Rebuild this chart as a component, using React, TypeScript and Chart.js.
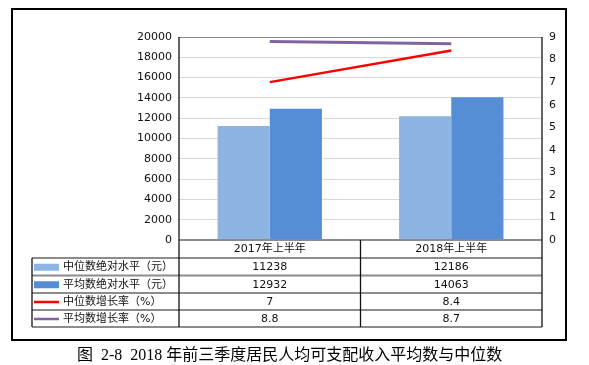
import { useEffect, useRef } from "react";
import { Chart, registerables } from "chart.js";

Chart.register(...registerables);

const categories = ["2017年上半年", "2018年上半年"];
const medianIncome = [11238, 12186];
const meanIncome = [12932, 14063];
const medianGrowth = [7, 8.4];
const meanGrowth = [8.8, 8.7];
const seriesNames = [
  "中位数绝对水平（元）",
  "平均数绝对水平（元）",
  "中位数增长率（%）",
  "平均数增长率（%）",
];
const caption = "图  2-8  2018 年前三季度居民人均可支配收入平均数与中位数";

const colors = ["#8DB4E2", "#558ED5", "#FF0000", "#8064A2"];
const FONT = '11px "DejaVu Sans", "Noto Sans CJK SC", sans-serif';
const TEXT = "#111";

const tablePlugin = {
  id: "dataTable",
  beforeDraw(chart: any) {
    const ctx = chart.ctx;
    ctx.save();
    ctx.strokeStyle = "#000";
    ctx.lineWidth = 2;
    ctx.strokeRect(12, 9, 554, 331);
    ctx.restore();
  },
  afterDatasetsDraw(chart: any) {
    const ctx = chart.ctx;
    const { left, right, top, bottom } = chart.chartArea;
    const xs = chart.scales.x;
    const centers = categories.map((_, i) => xs.getPixelForValue(i));
    const mid = (centers[0] + centers[1]) / 2;
    const legendLeft = 32;
    const rows = [bottom, bottom + 18, bottom + 35.5, bottom + 53, bottom + 70, bottom + 87];
    ctx.save();
    ctx.strokeStyle = "#8a8a8a";
    ctx.lineWidth = 1;
    ctx.beginPath();
    ctx.moveTo(left, top + 0.5);
    ctx.lineTo(right, top + 0.5);
    ctx.stroke();
    ctx.strokeStyle = "#8c8c8c";
    ctx.lineWidth = 2;
    rows.forEach((y, i) => {
      ctx.beginPath();
      ctx.moveTo(i === 0 ? left : legendLeft, y);
      ctx.lineTo(right, y);
      ctx.stroke();
    });
    ctx.strokeStyle = "#111";
    ctx.lineWidth = 1.3;
    const vline = (x: number, y0: number, y1: number) => {
      ctx.beginPath();
      ctx.moveTo(x, y0);
      ctx.lineTo(x, y1);
      ctx.stroke();
    };
    vline(left, top, rows[5]);
    vline(right, top, rows[5]);
    vline(mid, bottom, rows[5]);
    vline(legendLeft, rows[1], rows[5]);

    ctx.font = FONT;
    ctx.fillStyle = TEXT;
    ctx.textAlign = "center";
    ctx.textBaseline = "middle";
    categories.forEach((c, i) => ctx.fillText(c, centers[i], (rows[0] + rows[1]) / 2 + 0.5));
    const series = [medianIncome, meanIncome, medianGrowth, meanGrowth];
    series.forEach((vals, r) => {
      const yc = (rows[r + 1] + rows[r + 2]) / 2 + 0.5;
      vals.forEach((v, i) => ctx.fillText(String(v), centers[i], yc));
      if (r < 2) {
        ctx.fillStyle = colors[r];
        ctx.fillRect(34, yc - 3.5, 25, 7);
      } else {
        ctx.strokeStyle = colors[r];
        ctx.lineWidth = 2.5;
        ctx.beginPath();
        ctx.moveTo(34, yc);
        ctx.lineTo(59, yc);
        ctx.stroke();
      }
      ctx.fillStyle = TEXT;
      ctx.textAlign = "left";
      ctx.fillText(seriesNames[r], 63, yc);
      ctx.textAlign = "center";
    });
    ctx.restore();
  },
};

export default function App() {
  const ref = useRef<HTMLCanvasElement>(null);
  useEffect(() => {
    if (!ref.current) return;
    const chart = new Chart(ref.current, {
      type: "bar",
      data: {
        labels: categories,
        datasets: [
          {
            type: "bar",
            label: seriesNames[0],
            data: medianIncome,
            backgroundColor: colors[0],
            yAxisID: "y",
            categoryPercentage: 0.575,
            barPercentage: 1,
          },
          {
            type: "bar",
            label: seriesNames[1],
            data: meanIncome,
            backgroundColor: colors[1],
            yAxisID: "y",
            categoryPercentage: 0.575,
            barPercentage: 1,
          },
          {
            type: "line",
            label: seriesNames[2],
            data: medianGrowth,
            borderColor: colors[2],
            borderWidth: 2.5,
            pointRadius: 0,
            yAxisID: "y1",
          },
          {
            type: "line",
            label: seriesNames[3],
            data: meanGrowth,
            borderColor: colors[3],
            borderWidth: 3,
            pointRadius: 0,
            yAxisID: "y1",
          },
        ] as any,
      },
      options: {
        responsive: false,
        animation: false,
        devicePixelRatio: 1,
        layout: { padding: { left: 0, right: 0, top: 37, bottom: 125 } },
        plugins: { legend: { display: false }, tooltip: { enabled: false } },
        scales: {
          x: { display: false },
          y: {
            position: "left",
            min: 0,
            max: 20000,
            ticks: {
              stepSize: 2000,
              padding: 7,
              color: TEXT,
              font: { family: '"DejaVu Sans"', size: 11 },
              callback: (v: any) => String(v),
            },
            grid: { color: "#d9d9d9", drawTicks: false },
            border: { display: false },
            afterFit: (s: any) => {
              s.width = 179;
            },
          },
          y1: {
            position: "right",
            min: 0,
            max: 9,
            ticks: {
              stepSize: 1,
              padding: 7,
              color: TEXT,
              font: { family: '"DejaVu Sans"', size: 11 },
              callback: (v: any) => String(v),
            },
            grid: { drawOnChartArea: false, drawTicks: false },
            border: { display: false },
            afterFit: (s: any) => {
              s.width = 47;
            },
          },
        },
      } as any,
      plugins: [tablePlugin],
    });
    return () => chart.destroy();
  }, []);

  return (
    <div style={{ position: "fixed", left: 0, top: 0, width: 589, height: 365, background: "#fff" }}>
      <canvas ref={ref} width={589} height={365} style={{ position: "absolute", left: 0, top: 0 }} />
      <div
        style={{
          position: "absolute",
          left: 77,
          top: 345,
          height: 20,
          lineHeight: "20px",
          fontSize: 16,
          whiteSpace: "pre",
          color: "#000",
          fontFamily: '"Liberation Serif", "Noto Sans CJK SC", serif',
        }}
      >
        {caption}
      </div>
    </div>
  );
}
